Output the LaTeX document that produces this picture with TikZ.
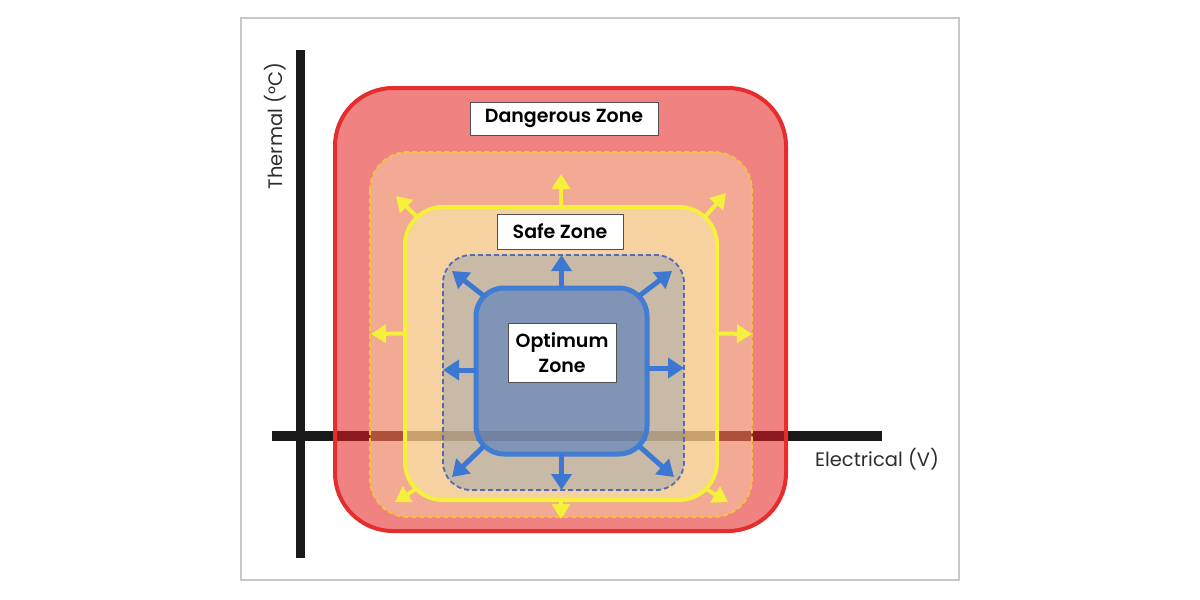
\documentclass[tikz,border=0pt]{standalone}
\usepackage{fontspec}
\setmainfont{Poppins}
\newfontfamily\lblfont{Poppins SemiBold}
\usetikzlibrary{arrows.meta,calc}
\definecolor{framegray}{RGB}{200,200,200}
\definecolor{axisblack}{RGB}{25,25,25}
\definecolor{redfill}{RGB}{240,130,130}
\definecolor{redline}{RGB}{230,45,45}
\definecolor{ydfill}{RGB}{243,170,148}
\definecolor{ydline}{RGB}{245,195,60}
\definecolor{ysfill}{RGB}{246,210,160}
\definecolor{ysline}{RGB}{245,240,60}
\definecolor{bdfill}{RGB}{200,186,166}
\definecolor{bdline}{RGB}{85,105,185}
\definecolor{bsfill}{RGB}{128,148,182}
\definecolor{bsline}{RGB}{65,125,210}
\definecolor{barrow}{RGB}{60,120,210}
\definecolor{yarrow}{RGB}{245,240,60}
\definecolor{lblline}{RGB}{80,80,80}
\definecolor{axtext}{RGB}{45,45,45}
\definecolor{axR}{RGB}{140,25,30}
\definecolor{axYD}{RGB}{175,80,60}
\definecolor{axYS}{RGB}{200,160,110}
\definecolor{axBD}{RGB}{175,155,130}
\definecolor{axBS}{RGB}{115,130,160}
\tikzset{
  zonefill/.style={rectangle, inner sep=0pt, outer sep=0pt, draw=none},
  axisline/.style={line width=10pt, line cap=butt},
  lbl/.style={rectangle, fill=white, draw=lblline, line width=1pt, inner sep=0pt,
    font=\lblfont\fontsize{19}{25}\selectfont, text=black},
  axlbl/.style={inner sep=0pt, font=\fontsize{19.5}{23}\selectfont, text=axtext},
  barr/.style={draw=barrow, line width=5pt, -{Triangle[width=20pt,length=16pt]}},
  yarr/.style={draw=yarrow, line width=4pt, -{Triangle[width=18pt,length=15pt]}}
}
\begin{document}
\begin{tikzpicture}[x=1pt,y=-1pt]
\useasboundingbox (0,0) rectangle (1200,600);
% frame
\draw[framegray, line width=2pt] (241,18) rectangle (959,580);
% axes
\coordinate (vtop) at (300,50);
\coordinate (vbot) at (300,558);
\coordinate (hl) at (272,436);
\coordinate (hr) at (882,436);
\draw[axisline, axisblack, line width=9pt] (vtop) -- (vbot);
\draw[axisline, axisblack] (hl) -- (hr);
% zone fills
\node[zonefill, fill=redfill, minimum width=451pt, minimum height=443pt, rounded corners=58pt] (red) at (560.5,309.5) {};
\node[zonefill, fill=ydfill, minimum width=382pt, minimum height=365pt, rounded corners=38pt] (yd) at (561,334.5) {};
\node[zonefill, fill=ysfill, minimum width=312pt, minimum height=293pt, rounded corners=38pt] (ys) at (561,353.5) {};
\node[zonefill, fill=bdfill, minimum width=241pt, minimum height=235pt, rounded corners=28pt] (bd) at (563.5,372.5) {};
\node[zonefill, fill=bsfill, minimum width=171pt, minimum height=166pt, rounded corners=28pt] (bs) at (561.5,371) {};
% axis seen through the zones
\draw[axisline, axR] (red.west |- hl) -- (red.east |- hl);
\draw[axisline, axYD] (yd.west |- hl) -- (yd.east |- hl);
\draw[axisline, axYS] (ys.west |- hl) -- (ys.east |- hl);
\draw[axisline, axBD] (bd.west |- hl) -- (bd.east |- hl);
\draw[axisline, axBS] (bs.west |- hl) -- (bs.east |- hl);
% zone borders
\draw[redline, line width=4pt, rounded corners=58pt] (red.north west) rectangle (red.south east);
\draw[ydline, line width=1.8pt, dash pattern=on 5pt off 3pt, rounded corners=38pt] (yd.north west) rectangle (yd.south east);
\draw[ysline, line width=4pt, rounded corners=38pt] (ys.north west) rectangle (ys.south east);
\draw[bdline, line width=1.8pt, dash pattern=on 5pt off 3pt, rounded corners=28pt] (bd.north west) rectangle (bd.south east);
\draw[bsline, line width=5pt, rounded corners=28pt] (bs.north west) rectangle (bs.south east);
% yellow arrows (safe zone expanding)
\coordinate (yt) at (561,174);
\coordinate (yl) at (371,334);
\coordinate (yr) at (752,334);
\coordinate (yb) at (561,519);
\coordinate (ytl) at (396,196);
\coordinate (ytr) at (726,193);
\coordinate (ybl) at (395,502);
\coordinate (ybr) at (728,502);
\draw[yarr] (ys.north) -- (yt);
\draw[yarr] ([shift={(0,-20)}]ys.west) -- (yl);
\draw[yarr] ([shift={(0,-20)}]ys.east) -- (yr);
\draw[yarr] (ys.south) -- (yb);
\draw[yarr] ([shift={(13,11)}]ys.north west) -- (ytl);
\draw[yarr] ([shift={(-13,11)}]ys.north east) -- (ytr);
\draw[yarr] ([shift={(11,-11)}]ys.south west) -- (ybl);
\draw[yarr] ([shift={(-11,-11)}]ys.south east) -- (ybr);
% blue arrows (optimum zone expanding)
\coordinate (btl) at (452,271);
\coordinate (btr) at (672,271);
\coordinate (bbl) at (452,477);
\coordinate (bbr) at (674,477);
\draw[barr] (bs.north) -- (bs.north |- bd.north);
\draw[barr] ([shift={(0,-1)}]bs.west) -- (bd.west |- 0,370);
\draw[barr] ([shift={(0,-3)}]bs.east) -- (bd.east |- 0,368);
\draw[barr] (bs.south) -- (bs.south |- bd.south);
\draw[barr] ([shift={(8,8)}]bs.north west) -- (btl);
\draw[barr] ([shift={(-8,8)}]bs.north east) -- (btr);
\draw[barr] ([shift={(8,-8)}]bs.south west) -- (bbl);
\draw[barr] ([shift={(-8,-8)}]bs.south east) -- (bbr);
% labels
\node[lbl, minimum width=188pt, minimum height=33pt] (dz) at (564,118.5) {Dangerous Zone};
\node[lbl, minimum width=126pt, minimum height=35pt] (sz) at (560,231.5) {Safe Zone};
\node[lbl, minimum width=108pt, minimum height=59pt, align=center] (oz) at (562,352.5) {Optimum\\Zone};
\node[axlbl, rotate=90] (th) at (275,126) {Thermal (°C)};
\node[axlbl] (el) at (877,459) {Electrical (V)};
\end{tikzpicture}
\end{document}
